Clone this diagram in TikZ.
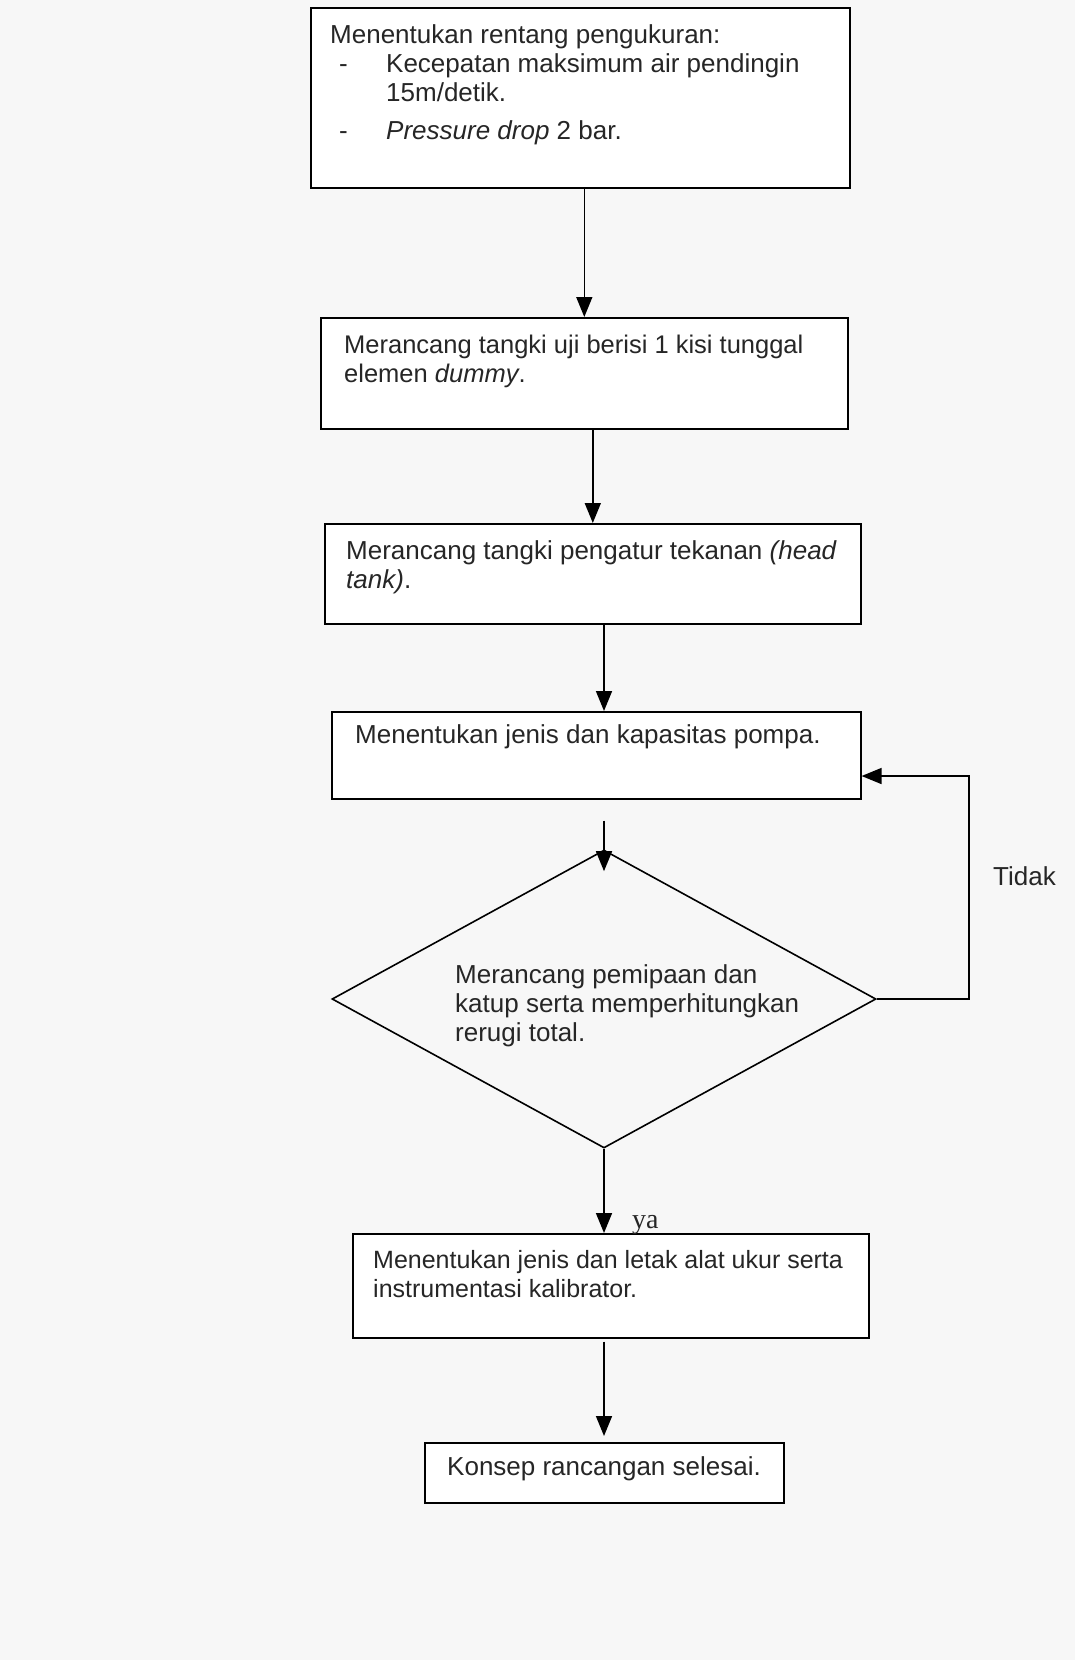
\documentclass[tikz,border=0pt]{standalone}
\usepackage{fontspec}
\setmainfont{Liberation Sans}
\newfontfamily\yafont{Liberation Serif}
\usepackage{tikz}
\usetikzlibrary{shapes,arrows.meta,positioning}

\begin{document}
\begin{tikzpicture}[x=1pt,y=-1pt,
  box/.style={draw,line width=1.6pt,fill=white,inner sep=0pt,anchor=north west},
  txt/.style={anchor=base west,align=left,inner sep=0pt,text=black!85,font=\fontsize{26}{29}\selectfont},
  arr/.style={-{Triangle[length=20pt,width=16pt]},line width=1.6pt}]
\useasboundingbox[fill=black!3] (0,0) rectangle (1075,1660);

\node[box,minimum width=539pt,minimum height=180pt] (b1) at (310,7) {};
\node[box,minimum width=527pt,minimum height=111pt] (b2) at (320,317) {};
\node[box,minimum width=536pt,minimum height=100pt] (b3) at (324,523) {};
\node[box,minimum width=529pt,minimum height=87pt] (b4) at (331,711) {};
\node[draw,line width=1.6pt,diamond,inner sep=0pt,minimum width=544pt,minimum height=298pt] (dm) at (604,999) {};
\node[box,minimum width=516pt,minimum height=104pt] (b5) at (352,1233) {};
\node[box,minimum width=359pt,minimum height=60pt] (b6) at (424,1442) {};

\node[txt,anchor=north west] (t1) at (330,24) {Menentukan rentang pengukuran:\\
  \hspace*{9pt}\makebox[47pt][l]{-}Kecepatan maksimum air pendingin\\
  \hspace*{56pt}15m/detik.\\[9pt]
  \hspace*{9pt}\makebox[47pt][l]{-}\textit{Pressure drop} 2 bar.};
\node[txt,anchor=north west,font=\fontsize{25.5}{29}\selectfont] (t2) at (344,335) {Merancang tangki uji berisi 1 kisi tunggal\\elemen \textit{dummy}.};
\node[txt,anchor=north west] (t3) at (346,540) {Merancang tangki pengatur tekanan \textit{(head}\\\textit{tank)}.};
\node[txt] (t4) at (355,743) {Menentukan jenis dan kapasitas pompa.};
\node[txt,anchor=north west] (t5) at (455,964) {Merancang pemipaan dan\\katup serta memperhitungkan\\rerugi total.};
\node[txt,anchor=north west,font=\fontsize{25}{29}\selectfont] (t6) at (373,1250) {Menentukan jenis dan letak alat ukur serta\\instrumentasi kalibrator.};
\node[txt] (t7) at (447,1475) {Konsep rancangan selesai.};

\coordinate (fb) at (969,776);
\node[txt] (tidak) at (993,885) {Tidak};
\node[txt,font=\yafont\fontsize{28}{29}\selectfont] (ya) at (632,1228) {ya};

\draw[arr] (b1.south -| b2.north) -- (b2.north);
\draw[arr] (b2.south -| b3.north) -- (b3.north);
\draw[arr] (b3.south -| dm.north) -- (b4.north -| dm.north);
\draw[arr] ([yshift=-21pt]b4.south -| dm.north) -- ([yshift=-22pt]dm.north);
\draw[arr] (dm.south) -- (b5.north -| dm.south);
\draw[arr] ([yshift=-3pt]b5.south -| dm.south) -- ([yshift=6pt]b6.north -| dm.south);
\draw[arr] (dm.east) -| (fb) -- (fb -| b4.east);

\end{tikzpicture}
\end{document}
